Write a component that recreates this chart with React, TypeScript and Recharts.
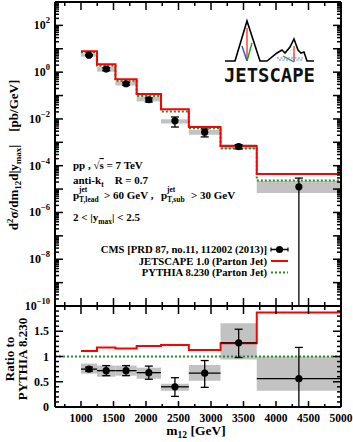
import { ComposedChart, Line, Scatter, ErrorBar, XAxis, YAxis, ReferenceArea, ReferenceLine } from 'recharts';

// bin edges of m12 [GeV]
const binEdges = [1000, 1246, 1530, 1856, 2231, 2659, 3147, 3704, 5000];

// upper panel, d2sigma/dm12d|ymax| [pb/GeV]
const cmsValues = [5.3, 1.35, 0.32, 0.066, 0.0083, 0.0027, 6.6e-4, 1.25e-5];
const cmsStatLow = [0.3, 0.19, 0.045, 0.013, 0.0038, 0.001, 1.4e-4, 1.24999e-5];
const cmsStatHigh = [0.3, 0.19, 0.045, 0.013, 0.0038, 0.001, 1.4e-4, 1.7e-5];
const cmsSystLow = [4.6, 1.05, 0.27, 0.056, 0.0064, 0.0021, 5.2e-4, 6.8e-6];
const cmsSystHigh = [6.3, 1.65, 0.41, 0.088, 0.0098, 0.0034, 8.3e-4, 2.2e-5];
const jetscapeValues = [7.9, 2.2, 0.5, 0.115, 0.026, 0.0045, 6.9e-4, 4.4e-5];
const pythiaValues = [7.1, 1.86, 0.43, 0.095, 0.021, 0.004, 5.5e-4, 2.35e-5];

// lower panel, ratio to PYTHIA 8.230
const ratioCms = [0.75, 0.72, 0.72, 0.68, 0.4, 0.67, 1.27, 0.56];
const ratioStatLow = [0.04, 0.1, 0.1, 0.13, 0.19, 0.28, 0.29, 0.56];
const ratioStatHigh = [0.04, 0.1, 0.1, 0.13, 0.18, 0.25, 0.27, 0.62];
const ratioSystLow = [0.66, 0.6, 0.62, 0.56, 0.32, 0.52, 0.94, 0.32];
const ratioSystHigh = [0.86, 0.82, 0.82, 0.78, 0.46, 0.83, 1.66, 1.0];
const ratioJetscape = [1.11, 1.18, 1.16, 1.21, 1.23, 1.13, 1.26, 1.87];

// axis ticks
const xMajorTicks = [1000, 1500, 2000, 2500, 3000, 3500, 4000, 4500, 5000];
const xMinorTicks = [750, 1250, 1750, 2250, 2750, 3250, 3750, 4250, 4750];
const logExponents = [-10, -9, -8, -7, -6, -5, -4, -3, -2, -1, 0, 1, 2];
const logMinorFactors = [2, 3, 4, 5, 6, 7, 8, 9];
const ratioMajorTicks = [0, 0.5, 1, 1.5, 2];
const ratioLabels = ['0', '0.5', '1', '1.5', ''];

const X_DOMAIN = [600, 5000];
const Y_DOMAIN = [1e-10, 1e3];
const serif = '"Liberation Serif", "Times New Roman", serif';
const GREEN = '#2c8a2c';
const GRAY = '#c2c2c2';

const xTicks = [...xMajorTicks, ...xMinorTicks].sort((a, b) => a - b);
const logTicks = [
    ...logExponents.flatMap(e => [Math.pow(10, e), ...logMinorFactors.map(f => f * Math.pow(10, e))]),
    1e3,
];
const ratioTicks: number[] = [];
for (let i = 0; i <= 20; i++) ratioTicks.push(i / 10);

const isLogMajor = (v: number) => Math.abs(Math.log10(v) - Math.round(Math.log10(v))) < 1e-6;
const isRatioMajor = (v: number) => Math.abs(v * 2 - Math.round(v * 2)) < 1e-6;

const tickStroke = { stroke: '#000', strokeWidth: 1.5 };
const axisLine = { stroke: '#000', strokeWidth: 2 };

function LogLeftTick({ x, y, payload }: any) {
    const v = payload.value;
    const major = isLogMajor(v);
    const e = Math.round(Math.log10(v));
    return (
        <g>
            <line x1={x} x2={x + (major ? 8 : 4)} y1={y} y2={y} {...tickStroke} />
            {major && e % 2 === 0 && (
                <text x={x - 5} y={y + 4} textAnchor="end" fontFamily={serif} fontWeight="bold" fontSize={12}>
                    10<tspan dy={-6} fontSize={8.5}>{e < 0 ? `\u2212${-e}` : e}</tspan>
                </text>
            )}
        </g>
    );
}

function LogRightTick({ x, y, payload }: any) {
    const len = isLogMajor(payload.value) ? 8 : 4;
    return <line x1={x - len} x2={x} y1={y} y2={y} {...tickStroke} />;
}

function TopDownTick({ x, y, payload }: any) {
    const len = xMajorTicks.includes(payload.value) ? 8 : 4;
    return <line x1={x} x2={x} y1={y} y2={y + len} {...tickStroke} />;
}

function DividerUpTick({ x, y, payload }: any) {
    const len = xMajorTicks.includes(payload.value) ? 8 : 4;
    return <line x1={x} x2={x} y1={y - len} y2={y} {...tickStroke} />;
}

function BottomTick({ x, y, payload }: any) {
    const major = xMajorTicks.includes(payload.value);
    return (
        <g>
            <line x1={x} x2={x} y1={y - (major ? 6 : 3)} y2={y} {...tickStroke} />
            {major && (
                <text x={x} y={y + 15} textAnchor="middle" fontFamily={serif} fontWeight="bold" fontSize={11.5}>
                    {payload.value}
                </text>
            )}
        </g>
    );
}

function RatioLeftTick({ x, y, payload }: any) {
    const v = payload.value;
    const major = isRatioMajor(v);
    const idx = ratioMajorTicks.indexOf(v);
    return (
        <g>
            <line x1={x} x2={x + (major ? 8 : 4)} y1={y} y2={y} {...tickStroke} />
            {major && idx >= 0 && (
                <text x={x - 6} y={y + 4} textAnchor="end" fontFamily={serif} fontWeight="bold" fontSize={12}>
                    {ratioLabels[idx]}
                </text>
            )}
        </g>
    );
}

function RatioRightTick({ x, y, payload }: any) {
    const len = isRatioMajor(payload.value) ? 8 : 4;
    return <line x1={x - len} x2={x} y1={y} y2={y} {...tickStroke} />;
}

const Dot = (p: any) => <circle cx={p.cx} cy={p.cy} r={3.6} fill="#000" />;

const stepData = (vals: number[]) => [
    ...vals.map((v, i) => ({ x: binEdges[i], y: v })),
    { x: binEdges[binEdges.length - 1], y: vals[vals.length - 1] },
];

function Overlay() {
    const txt = { fontFamily: serif, fontWeight: 'bold' as const, fill: '#000' };
    return (
        <svg width={353} height={442} style={{ position: 'absolute', left: 0, top: 0, pointerEvents: 'none' }}>
            {/* JETSCAPE logo */}
            <polyline
                points="225,61 235,61 247,21 260,61 267,61 277,53 282,50 285,53 290,47 294,39 298,50 301,53 304,52 307,61 314,61"
                fill="none" stroke="#000" strokeWidth={1.6} strokeLinejoin="miter"
            />
            <line x1={247} y1={28} x2={247} y2={61} stroke="#ff3b1f" strokeWidth={1.4} />
            <line x1={242} y1={46} x2={247} y2={61} stroke="#2a4ff0" strokeWidth={1.4} />
            <line x1={247} y1={61} x2={252} y2={43} stroke="#1d9a2a" strokeWidth={1.4} />
            <line x1={294} y1={46} x2={294} y2={62} stroke="#ff3b1f" strokeWidth={1.4} />
            <line x1={283} y1={56} x2={294} y2={62} stroke="#1d9a2a" strokeWidth={1.2} />
            <g stroke="#5a7cf5" strokeWidth={1.2} strokeDasharray="2 1.5">
                <line x1={277} y1={58} x2={303} y2={58} />
                <line x1={279} y1={60} x2={303} y2={60} />
            </g>
            <text x={224} y={82} fontFamily='"DejaVu Sans Mono", monospace' fontWeight="bold" fontSize={19}
                textLength={91} lengthAdjust="spacingAndGlyphs" fill="#111">JETSCAPE</text>

            {/* annotations */}
            <text x={73} y={169} fontSize={11} {...txt}>
                pp , {'\u221A'}<tspan style={{ textDecoration: 'overline' }}>s</tspan> = 7 TeV
            </text>
            <text x={73} y={184} fontSize={11} {...txt}>
                anti-k<tspan dy={2.5} fontSize={7.5}>t</tspan><tspan dy={-2.5}>{'\u2002\u2002'}R = 0.7</tspan>
            </text>
            <text x={73} y={199} fontSize={11} {...txt}>p</text>
            <text x={79} y={192} fontSize={7.5} {...txt}>jet</text>
            <text x={79} y={201.5} fontSize={7.5} {...txt}>T,lead</text>
            <text x={104} y={199} fontSize={11} {...txt}>&gt; 60 GeV ,</text>
            <text x={161} y={199} fontSize={11} {...txt}>p</text>
            <text x={167} y={192} fontSize={7.5} {...txt}>jet</text>
            <text x={167} y={201.5} fontSize={7.5} {...txt}>T,sub</text>
            <text x={191} y={199} fontSize={11} {...txt}>&gt; 30 GeV</text>
            <text x={73} y={221} fontSize={11} {...txt}>
                2 &lt; |y<tspan dy={2.5} fontSize={7.5}>max</tspan><tspan dy={-2.5}>| &lt; 2.5</tspan>
            </text>

            {/* legend */}
            <text x={267} y={253} textAnchor="end" fontSize={10.7} {...txt}>CMS [PRD 87, no.11, 112002 (2013)]</text>
            <text x={267} y={264.5} textAnchor="end" fontSize={10.7} {...txt}>JETSCAPE 1.0 (Parton Jet)</text>
            <text x={267} y={276} textAnchor="end" fontSize={10.7} {...txt}>PYTHIA 8.230 (Parton Jet)</text>
            <line x1={271} x2={288} y1={249.5} y2={249.5} stroke="#000" strokeWidth={1.5} />
            <line x1={271} x2={271} y1={247.5} y2={251.5} stroke="#000" strokeWidth={1.2} />
            <line x1={288} x2={288} y1={247.5} y2={251.5} stroke="#000" strokeWidth={1.2} />
            <circle cx={279.5} cy={249.5} r={3.6} fill="#000" />
            <line x1={271} x2={288} y1={261} y2={261} stroke="#ff0000" strokeWidth={2} />
            <line x1={271} x2={288} y1={272.5} y2={272.5} stroke={GREEN} strokeWidth={2} strokeDasharray="2 2" />

            {/* axis titles */}
            <text transform="rotate(-90)" x={-155} y={18} textAnchor="middle" fontSize={13} {...txt}>
                d<tspan dy={-5} fontSize={9}>2</tspan><tspan dy={5}>{'\u03C3'}/dm</tspan>
                <tspan dy={3} fontSize={9}>12</tspan><tspan dy={-3}>d|y</tspan>
                <tspan dy={3} fontSize={9}>max</tspan><tspan dy={-3}>|{'\u2003'}[pb/GeV]</tspan>
            </text>
            <text transform="rotate(-90)" x={-359} y={14} textAnchor="middle" fontSize={13} {...txt}>Ratio to</text>
            <text transform="rotate(-90)" x={-359} y={27} textAnchor="middle" fontSize={13} {...txt}>PYTHIA 8.230</text>
            <text x={196} y={435} textAnchor="middle" fontSize={13.5} {...txt}>
                m<tspan dy={3} fontSize={9.5}>12</tspan><tspan dy={-3}> [GeV]</tspan>
            </text>
        </svg>
    );
}

export default function App() {
    const centers = binEdges.slice(0, -1).map((lo, i) => (lo + binEdges[i + 1]) / 2);
    const halfWidths = binEdges.slice(0, -1).map((lo, i) => (binEdges[i + 1] - lo) / 2);

    const topPoints = centers.map((x, i) => ({ x, y: cmsValues[i], ey: [cmsStatLow[i], cmsStatHigh[i]] }));
    const ratioPoints = centers.map((x, i) => ({
        x, y: ratioCms[i], ey: [ratioStatLow[i], ratioStatHigh[i]], ex: halfWidths[i],
    }));

    return (
        <div style={{ position: 'absolute', left: 0, top: 0, width: 353, height: 442, background: '#fff' }}>
            <div style={{ position: 'absolute', left: 0, top: 0 }}>
                <ComposedChart width={353} height={312} margin={{ top: 1, right: 11, bottom: 5, left: 0 }}>
                    <XAxis type="number" dataKey="x" domain={X_DOMAIN} ticks={xTicks} interval={0} allowDataOverflow
                        height={1} tickSize={0} tickMargin={0} tickLine={false} axisLine={axisLine}
                        tick={(p: any) => <DividerUpTick {...p} />} />
                    <XAxis xAxisId="t" orientation="top" type="number" dataKey="x" domain={X_DOMAIN} ticks={xTicks}
                        interval={0} allowDataOverflow height={1} tickSize={0} tickMargin={0} tickLine={false}
                        axisLine={axisLine} tick={(p: any) => <TopDownTick {...p} />} />
                    <YAxis type="number" dataKey="y" scale="log" domain={Y_DOMAIN} ticks={logTicks} interval={0}
                        allowDataOverflow width={55} tickSize={0} tickMargin={0} tickLine={false} axisLine={axisLine}
                        tick={(p: any) => <LogLeftTick {...p} />} />
                    <YAxis yAxisId="r" orientation="right" type="number" dataKey="y" scale="log" domain={Y_DOMAIN}
                        ticks={logTicks} interval={0} allowDataOverflow width={1} tickSize={0} tickMargin={0}
                        tickLine={false} axisLine={axisLine} tick={(p: any) => <LogRightTick {...p} />} />
                    {centers.map((_, i) => (
                        <ReferenceArea key={i} x1={binEdges[i]} x2={binEdges[i + 1]} y1={cmsSystLow[i]} y2={cmsSystHigh[i]}
                            fill={GRAY} fillOpacity={1} stroke="none" />
                    ))}
                    <Line data={stepData(pythiaValues)} dataKey="y" type="stepAfter" stroke={GREEN} strokeWidth={2}
                        strokeDasharray="2 2" dot={false} isAnimationActive={false} />
                    <Line data={stepData(jetscapeValues)} dataKey="y" type="stepAfter" stroke="#ff0000" strokeWidth={2}
                        dot={false} isAnimationActive={false} />
                    <Scatter data={topPoints} dataKey="y" shape={Dot} isAnimationActive={false}>
                        <ErrorBar dataKey="ey" direction="y" width={4} stroke="#000" strokeWidth={1.3} isAnimationActive={false} />
                    </Scatter>
                </ComposedChart>
            </div>
            <div style={{ position: 'absolute', left: 0, top: 300 }}>
                <ComposedChart width={353} height={142} margin={{ top: 5, right: 11, bottom: 0, left: 0 }}>
                    <XAxis type="number" dataKey="x" domain={X_DOMAIN} ticks={xTicks} interval={0} allowDataOverflow
                        height={35} tickSize={0} tickMargin={0} tickLine={false} axisLine={axisLine}
                        tick={(p: any) => <BottomTick {...p} />} />
                    <XAxis xAxisId="t" orientation="top" type="number" dataKey="x" domain={X_DOMAIN} ticks={xTicks}
                        interval={0} allowDataOverflow height={1} tickSize={0} tickMargin={0} tickLine={false}
                        axisLine={axisLine} tick={(p: any) => <TopDownTick {...p} />} />
                    <YAxis type="number" dataKey="y" domain={[0, 2]} ticks={ratioTicks} interval={0} allowDataOverflow
                        width={55} tickSize={0} tickMargin={0} tickLine={false} axisLine={axisLine}
                        tick={(p: any) => <RatioLeftTick {...p} />} />
                    <YAxis yAxisId="r" orientation="right" type="number" dataKey="y" domain={[0, 2]} ticks={ratioTicks}
                        interval={0} allowDataOverflow width={1} tickSize={0} tickMargin={0} tickLine={false}
                        axisLine={axisLine} tick={(p: any) => <RatioRightTick {...p} />} />
                    {centers.map((_, i) => (
                        <ReferenceArea key={i} x1={binEdges[i]} x2={binEdges[i + 1]} y1={ratioSystLow[i]} y2={ratioSystHigh[i]}
                            fill={GRAY} fillOpacity={1} stroke="none" />
                    ))}
                    <ReferenceLine y={1} stroke={GREEN} strokeWidth={2} strokeDasharray="2 2" />
                    <Line data={stepData(ratioJetscape)} dataKey="y" type="stepAfter" stroke="#ff0000" strokeWidth={2}
                        dot={false} isAnimationActive={false} />
                    <Scatter data={ratioPoints} dataKey="y" shape={Dot} isAnimationActive={false}>
                        <ErrorBar dataKey="ex" direction="x" width={0} stroke="#000" strokeWidth={1.3} isAnimationActive={false} />
                        <ErrorBar dataKey="ey" direction="y" width={4} stroke="#000" strokeWidth={1.3} isAnimationActive={false} />
                    </Scatter>
                </ComposedChart>
            </div>
            <Overlay />
        </div>
    );
}
